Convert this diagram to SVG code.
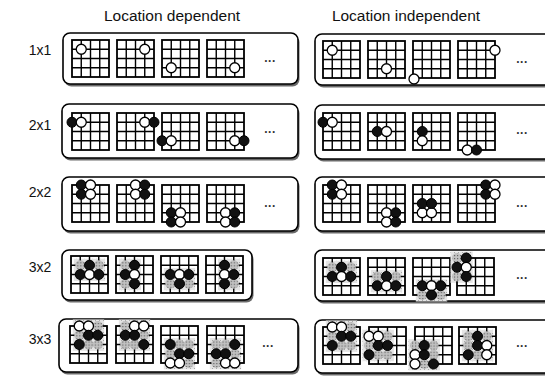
<svg xmlns="http://www.w3.org/2000/svg" xmlns:xlink="http://www.w3.org/1999/xlink" width="545" height="380" viewBox="0 0 545 380">
<style>
text{font-family:"Liberation Sans",Arial,sans-serif;fill:#111}
.hd{font-size:15.5px}
.lb{font-size:14px}
.dt{font-size:12px;font-weight:bold;letter-spacing:0.5px;fill:#333}
.box{fill:#fff;stroke:#000;stroke-width:1.6}
.shd{fill:#6a6a6a}
.sa{fill:url(#spk2)}
</style>
<defs>
<pattern id="spk" width="3" height="3" patternUnits="userSpaceOnUse">
<rect width="3" height="3" fill="#c2c2c2"/><rect x="0" y="0" width="1.2" height="1.2" fill="#666"/>
</pattern>
<pattern id="spk2" width="4" height="4" patternUnits="userSpaceOnUse">
<rect width="4" height="4" fill="#e4e4e4"/><rect x="1" y="2" width="1" height="1" fill="#aaa"/>
</pattern>
<g id="grid">
<rect x="0" y="0" width="37" height="37" fill="none" stroke="#000" stroke-width="1.8"/>
<path d="M9.25 0V37M18.5 0V37M27.75 0V37M0 9.25H37M0 18.5H37M0 27.75H37" stroke="#000" stroke-width="1.4" fill="none"/>
</g>
<circle id="w" r="5" fill="#fff" stroke="#000" stroke-width="1.3"/>
<circle id="b" r="5" fill="#111" stroke="#000" stroke-width="1"/>
<circle id="g" r="5" fill="url(#spk)"/>
</defs>

<g id="headers">
<text class="hd" x="172" y="21" text-anchor="middle">Location dependent</text>
<text class="hd" x="406" y="21" text-anchor="middle">Location independent</text>
</g>
<g id="labels">
<text class="lb" x="40" y="55" text-anchor="middle">1x1</text>
<text class="lb" x="40" y="130" text-anchor="middle">2x1</text>
<text class="lb" x="40" y="197" text-anchor="middle">2x2</text>
<text class="lb" x="40" y="272" text-anchor="middle">3x2</text>
<text class="lb" x="40" y="344" text-anchor="middle">3x3</text>
</g>

<!-- Row 1: 1x1 -->
<g id="r1-dep">
<rect class="shd" x="64.5" y="35.5" width="235" height="51" rx="7"/>
<rect class="box" x="63" y="33" width="235" height="51" rx="7"/>
<g transform="translate(72,40)"><use href="#grid"/><use href="#w" x="9.25" y="9.25"/></g>
<g transform="translate(117,40)"><use href="#grid"/><use href="#w" x="27.75" y="9.25"/></g>
<g transform="translate(162,40)"><use href="#grid"/><use href="#w" x="9.25" y="27.75"/></g>
<g transform="translate(207,40)"><use href="#grid"/><use href="#w" x="27.75" y="27.75"/></g>
<text class="dt" x="270" y="62" text-anchor="middle">...</text>
</g>
<g id="r1-ind">
<rect class="shd" x="316.5" y="36.5" width="240" height="51" rx="7"/>
<rect class="box" x="315" y="34" width="240" height="51" rx="7"/>
<g transform="translate(323,41)"><use href="#grid"/><use href="#w" x="9.25" y="9.25"/></g>
<g transform="translate(368,41)"><use href="#grid"/><use href="#w" x="18.5" y="27.75"/></g>
<g transform="translate(413,41)"><use href="#grid"/><use href="#w" x="1" y="38"/></g>
<g transform="translate(458,41)"><use href="#grid"/><use href="#w" x="37" y="9.25"/></g>
<text class="dt" x="522" y="63" text-anchor="middle">...</text>
</g>

<!-- Row 2: 2x1 -->
<g id="r2-dep">
<rect class="shd" x="63.5" y="106.5" width="236" height="54" rx="7"/>
<rect class="box" x="62" y="104" width="236" height="54" rx="7"/>
<g transform="translate(72,113)"><use href="#grid"/><use href="#b" x="0" y="9.25"/><use href="#w" x="9.25" y="9.25"/></g>
<g transform="translate(117,113)"><use href="#grid"/><use href="#w" x="27.75" y="9.25"/><use href="#b" x="37" y="9.25"/></g>
<g transform="translate(162,113)"><use href="#grid"/><use href="#b" x="0" y="27.75"/><use href="#w" x="9.25" y="27.75"/></g>
<g transform="translate(207,113)"><use href="#grid"/><use href="#w" x="27.75" y="27.75"/><use href="#b" x="37" y="27.75"/></g>
<text class="dt" x="270" y="133" text-anchor="middle">...</text>
</g>
<g id="r2-ind">
<rect class="shd" x="316.5" y="107.5" width="240" height="54" rx="7"/>
<rect class="box" x="315" y="105" width="240" height="54" rx="7"/>
<g transform="translate(323,113)"><use href="#grid"/><use href="#b" x="0" y="9.25"/><use href="#w" x="9.25" y="9.25"/></g>
<g transform="translate(368,113)"><use href="#grid"/><use href="#b" x="9.25" y="18.5"/><use href="#w" x="18.5" y="18.5"/></g>
<g transform="translate(413,113)"><use href="#grid"/><use href="#b" x="9.25" y="18.5"/><use href="#w" x="9.25" y="27.75"/></g>
<g transform="translate(458,113)"><use href="#grid"/><use href="#w" x="9.25" y="37"/><use href="#b" x="18.5" y="37"/></g>
<text class="dt" x="522" y="134" text-anchor="middle">...</text>
</g>

<!-- Row 3: 2x2 -->
<g id="r3-dep">
<rect class="shd" x="63.5" y="179.5" width="236" height="54" rx="7"/>
<rect class="box" x="62" y="177" width="236" height="54" rx="7"/>
<g transform="translate(72,185)"><use href="#grid"/><use href="#b" x="9.25" y="0"/><use href="#b" x="9.25" y="9.25"/><use href="#w" x="18.5" y="0"/><use href="#w" x="18.5" y="9.25"/></g>
<g transform="translate(117,185)"><use href="#grid"/><use href="#w" x="18.5" y="0"/><use href="#w" x="18.5" y="9.25"/><use href="#b" x="27.75" y="0"/><use href="#b" x="27.75" y="9.25"/></g>
<g transform="translate(162,185)"><use href="#grid"/><use href="#b" x="9.25" y="27.75"/><use href="#b" x="9.25" y="37"/><use href="#w" x="18.5" y="27.75"/><use href="#w" x="18.5" y="37"/></g>
<g transform="translate(207,185)"><use href="#grid"/><use href="#w" x="18.5" y="27.75"/><use href="#w" x="18.5" y="37"/><use href="#b" x="27.75" y="27.75"/><use href="#b" x="27.75" y="37"/></g>
<text class="dt" x="270" y="207" text-anchor="middle">...</text>
</g>
<g id="r3-ind">
<rect class="shd" x="316.5" y="179.5" width="240" height="54" rx="7"/>
<rect class="box" x="315" y="177" width="240" height="54" rx="7"/>
<g transform="translate(323,185)"><use href="#grid"/><use href="#b" x="9.25" y="0"/><use href="#b" x="9.25" y="9.25"/><use href="#w" x="18.5" y="0"/><use href="#w" x="18.5" y="9.25"/></g>
<g transform="translate(368,185)"><use href="#grid"/><use href="#w" x="18.5" y="27.75"/><use href="#w" x="18.5" y="37"/><use href="#b" x="27.75" y="27.75"/><use href="#b" x="27.75" y="37"/></g>
<g transform="translate(413,185)"><use href="#grid"/><use href="#w" x="9.25" y="27.75"/><use href="#w" x="18.5" y="27.75"/><use href="#b" x="9.25" y="18.5"/><use href="#b" x="18.5" y="18.5"/></g>
<g transform="translate(458,185)"><use href="#grid"/><use href="#b" x="27.75" y="0"/><use href="#b" x="27.75" y="9.25"/><use href="#w" x="37" y="0"/><use href="#w" x="37" y="9.25"/></g>
<text class="dt" x="522" y="207" text-anchor="middle">...</text>
</g>

<!-- Row 4: 3x2 -->
<g id="r4-dep">
<rect class="shd" x="63.5" y="252.5" width="190" height="50" rx="7"/>
<rect class="box" x="62" y="250" width="190" height="50" rx="7"/>
<g transform="translate(71,256)"><rect class="sa" x="2.8" y="2.8" width="31.4" height="22.2"/><use href="#grid"/>
<use href="#g" x="9.25" y="9.25"/><use href="#g" x="27.75" y="9.25"/><use href="#b" x="18.5" y="9.25"/><use href="#b" x="9.25" y="18.5"/><use href="#w" x="18.5" y="18.5"/><use href="#b" x="27.75" y="18.5"/></g>
<g transform="translate(116,256)"><rect class="sa" x="2.8" y="2.8" width="22.2" height="31.4"/><use href="#grid"/>
<use href="#g" x="9.25" y="9.25"/><use href="#g" x="9.25" y="27.75"/><use href="#b" x="18.5" y="9.25"/><use href="#b" x="9.25" y="18.5"/><use href="#w" x="18.5" y="18.5"/><use href="#b" x="18.5" y="27.75"/></g>
<g transform="translate(161,256)"><rect class="sa" x="2.8" y="12" width="31.4" height="22.2"/><use href="#grid"/>
<use href="#g" x="9.25" y="27.75"/><use href="#g" x="27.75" y="27.75"/><use href="#b" x="9.25" y="18.5"/><use href="#w" x="18.5" y="18.5"/><use href="#b" x="27.75" y="18.5"/><use href="#b" x="18.5" y="27.75"/></g>
<g transform="translate(206,256)"><rect class="sa" x="12" y="2.8" width="22.2" height="31.4"/><use href="#grid"/>
<use href="#g" x="27.75" y="9.25"/><use href="#g" x="27.75" y="27.75"/><use href="#b" x="18.5" y="9.25"/><use href="#w" x="18.5" y="18.5"/><use href="#b" x="27.75" y="18.5"/><use href="#b" x="18.5" y="27.75"/></g>
</g>
<g id="r4-ind">
<rect class="shd" x="316.5" y="252.5" width="240" height="51" rx="7"/>
<rect class="box" x="315" y="250" width="240" height="51" rx="7"/>
<g transform="translate(323,258)"><rect class="sa" x="2.8" y="2.8" width="31.4" height="22.2"/><use href="#grid"/>
<use href="#g" x="9.25" y="9.25"/><use href="#g" x="27.75" y="9.25"/><use href="#b" x="18.5" y="9.25"/><use href="#b" x="9.25" y="18.5"/><use href="#w" x="18.5" y="18.5"/><use href="#b" x="27.75" y="18.5"/></g>
<g transform="translate(368,258)"><rect class="sa" x="2.8" y="12" width="31.4" height="22.2"/><use href="#grid"/>
<use href="#g" x="9.25" y="18.5"/><use href="#g" x="27.75" y="18.5"/><use href="#b" x="18.5" y="18.5"/><use href="#b" x="9.25" y="27.75"/><use href="#w" x="18.5" y="27.75"/><use href="#b" x="27.75" y="27.75"/></g>
<g transform="translate(413,258)"><rect class="sa" x="2.8" y="21.3" width="31.4" height="22.2"/><use href="#grid"/>
<use href="#g" x="9.25" y="37"/><use href="#g" x="27.75" y="37"/><use href="#b" x="9.25" y="27.75"/><use href="#w" x="18.5" y="27.75"/><use href="#b" x="27.75" y="27.75"/><use href="#b" x="18.5" y="37"/></g>
<g transform="translate(457,258)"><rect class="sa" x="-6.5" y="-6.5" width="22.2" height="31.4"/><use href="#grid"/>
<use href="#g" x="0" y="0"/><use href="#g" x="0" y="18.5"/><use href="#b" x="9.25" y="0"/><use href="#b" x="0" y="9.25"/><use href="#w" x="9.25" y="9.25"/><use href="#b" x="9.25" y="18.5"/></g>
<text class="dt" x="522" y="279" text-anchor="middle">...</text>
</g>

<!-- Row 5: 3x3 -->
<g id="r5-dep">
<rect class="shd" x="60.5" y="321.5" width="239" height="53" rx="7"/>
<rect class="box" x="59" y="319" width="239" height="53" rx="7"/>
<g transform="translate(70,326)"><rect class="sa" x="2.8" y="-6.5" width="31.4" height="31.4"/><use href="#grid"/>
<use href="#g" x="27.75" y="0"/><use href="#g" x="9.25" y="9.25"/><use href="#g" x="18.5" y="18.5"/><use href="#g" x="27.75" y="18.5"/>
<use href="#w" x="9.25" y="0"/><use href="#w" x="18.5" y="0"/><use href="#b" x="18.5" y="9.25"/><use href="#b" x="27.75" y="9.25"/><use href="#b" x="9.25" y="18.5"/></g>
<g transform="translate(116,326)"><rect class="sa" x="2.8" y="-6.5" width="31.4" height="31.4"/><use href="#grid"/>
<use href="#g" x="9.25" y="0"/><use href="#g" x="27.75" y="9.25"/><use href="#g" x="9.25" y="18.5"/><use href="#g" x="18.5" y="18.5"/>
<use href="#w" x="18.5" y="0"/><use href="#w" x="27.75" y="0"/><use href="#b" x="9.25" y="9.25"/><use href="#b" x="18.5" y="9.25"/><use href="#b" x="27.75" y="18.5"/></g>
<g transform="translate(161,326)"><rect class="sa" x="2.8" y="12" width="31.4" height="31.4"/><use href="#grid"/>
<use href="#g" x="18.5" y="18.5"/><use href="#g" x="27.75" y="18.5"/><use href="#g" x="9.25" y="27.75"/><use href="#g" x="27.75" y="37"/>
<use href="#b" x="9.25" y="18.5"/><use href="#b" x="18.5" y="27.75"/><use href="#b" x="27.75" y="27.75"/><use href="#w" x="9.25" y="37"/><use href="#w" x="18.5" y="37"/></g>
<g transform="translate(207,326)"><rect class="sa" x="2.8" y="12" width="31.4" height="31.4"/><use href="#grid"/>
<use href="#g" x="9.25" y="18.5"/><use href="#g" x="18.5" y="18.5"/><use href="#g" x="27.75" y="27.75"/><use href="#g" x="9.25" y="37"/>
<use href="#b" x="27.75" y="18.5"/><use href="#b" x="9.25" y="27.75"/><use href="#b" x="18.5" y="27.75"/><use href="#w" x="18.5" y="37"/><use href="#w" x="27.75" y="37"/></g>
<text class="dt" x="268" y="347" text-anchor="middle">...</text>
</g>
<g id="r5-ind">
<rect class="shd" x="316.5" y="322.5" width="240" height="53" rx="7"/>
<rect class="box" x="315" y="320" width="240" height="53" rx="7"/>
<g transform="translate(323,327)"><rect class="sa" x="2.8" y="-6.5" width="31.4" height="31.4"/><use href="#grid"/>
<use href="#g" x="27.75" y="0"/><use href="#g" x="9.25" y="9.25"/><use href="#g" x="18.5" y="18.5"/><use href="#g" x="27.75" y="18.5"/>
<use href="#w" x="9.25" y="0"/><use href="#w" x="18.5" y="0"/><use href="#b" x="18.5" y="9.25"/><use href="#b" x="27.75" y="9.25"/><use href="#b" x="9.25" y="18.5"/></g>
<g transform="translate(369,327)"><rect class="sa" x="-6.5" y="2.8" width="31.4" height="31.4"/><use href="#grid"/>
<use href="#g" x="18.5" y="9.25"/><use href="#g" x="0" y="18.5"/><use href="#g" x="9.25" y="27.75"/><use href="#g" x="18.5" y="27.75"/>
<use href="#w" x="0" y="9.25"/><use href="#w" x="9.25" y="9.25"/><use href="#b" x="9.25" y="18.5"/><use href="#b" x="18.5" y="18.5"/><use href="#b" x="0" y="27.75"/></g>
<g transform="translate(415,327)"><rect class="sa" x="-6.5" y="12" width="31.4" height="31.4"/><use href="#grid"/>
<use href="#g" x="0" y="18.5"/><use href="#g" x="18.5" y="18.5"/><use href="#g" x="18.5" y="27.75"/><use href="#g" x="9.25" y="37"/>
<use href="#b" x="9.25" y="18.5"/><use href="#w" x="0" y="27.75"/><use href="#b" x="9.25" y="27.75"/><use href="#w" x="0" y="37"/><use href="#b" x="18.5" y="37"/></g>
<g transform="translate(459,327)"><rect class="sa" x="2.8" y="2.8" width="31.4" height="31.4"/><use href="#grid"/>
<use href="#g" x="9.25" y="9.25"/><use href="#g" x="27.75" y="9.25"/><use href="#g" x="9.25" y="18.5"/><use href="#g" x="18.5" y="27.75"/>
<use href="#b" x="18.5" y="9.25"/><use href="#b" x="18.5" y="18.5"/><use href="#w" x="27.75" y="18.5"/><use href="#b" x="9.25" y="27.75"/><use href="#w" x="27.75" y="27.75"/></g>
<text class="dt" x="522" y="347" text-anchor="middle">...</text>
</g>
</svg>
